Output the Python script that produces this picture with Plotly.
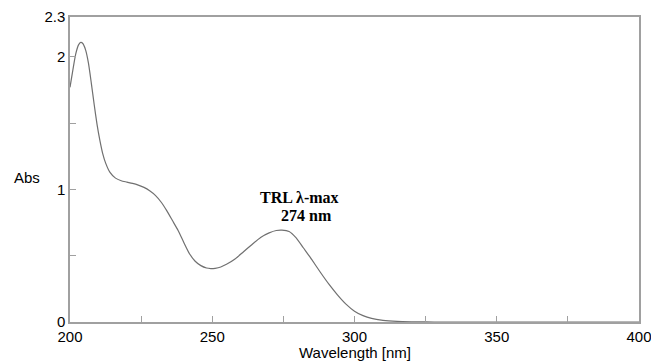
import plotly.graph_objects as go

wavelength = [200, 201, 202, 203, 203.8, 204.5, 205.5, 206.5, 207.5, 208.5, 209.5, 210.5,
              211.5, 212.5, 214, 216, 218, 220, 222, 224, 226, 228, 230, 232, 234, 236,
              238, 240, 242, 244, 246, 248, 249.5, 251, 253, 255, 258, 261, 264, 267,
              270, 272.5, 274.5, 277, 279.5, 282, 285, 288, 291, 294, 297, 300, 303,
              306, 310, 315, 320, 325, 330, 400]
absorbance = [1.77, 1.90, 2.02, 2.09, 2.108, 2.10, 2.05, 1.95, 1.80, 1.64, 1.49, 1.37,
              1.27, 1.20, 1.13, 1.085, 1.065, 1.055, 1.045, 1.032, 1.015, 0.99, 0.955,
              0.905, 0.84, 0.765, 0.69, 0.60, 0.515, 0.458, 0.425, 0.407, 0.403, 0.405,
              0.415, 0.435, 0.475, 0.53, 0.585, 0.638, 0.672, 0.69, 0.693, 0.683, 0.635,
              0.56, 0.47, 0.375, 0.285, 0.205, 0.135, 0.082, 0.048, 0.027, 0.013, 0.005,
              0.002, 0.0005, 0, 0]

x_ticks = [200, 250, 300, 350, 400]
y_ticks = [0, 1, 2, 2.3]
y_labels = ["0", "1", "2", "2.3"]

fig = go.Figure()
fig.add_trace(go.Scatter(x=wavelength, y=absorbance, mode="lines",
                         line=dict(color="#707070", width=1.2, shape="spline", smoothing=0.6),
                         hoverinfo="skip"))

axis_col = "#a0a0a0"
tfont = dict(family="Liberation Sans, Arial", size=15, color="black")
fig.update_xaxes(range=[200, 400], tickvals=x_ticks, ticktext=[str(v) for v in x_ticks],
                 ticks="inside", ticklen=6, tickcolor=axis_col, tickwidth=1,
                 minor=dict(dtick=25, tick0=200, ticks="inside", ticklen=6, tickcolor=axis_col),
                 showline=True, linecolor=axis_col, linewidth=1.5, mirror=True,
                 showgrid=False, zeroline=False, automargin=False,
                 ticklabeloverflow="allow", tickfont=tfont)
fig.update_yaxes(range=[0, 2.3], tickvals=y_ticks, ticktext=y_labels,
                 ticks="inside", ticklen=6, tickcolor=axis_col, tickwidth=1,
                 minor=dict(dtick=0.5, tick0=0, ticks="inside", ticklen=6, tickcolor=axis_col),
                 showline=True, linecolor=axis_col, linewidth=1.5, mirror=True,
                 showgrid=False, zeroline=False, automargin=False,
                 ticklabeloverflow="allow", tickfont=tfont)

fig.add_annotation(x=266.1, y=0.94, xref="x", yref="y", text="<b>TRL λ-max</b>",
                   showarrow=False, xanchor="left", yanchor="middle",
                   font=dict(family="Liberation Serif, Times New Roman", size=16, color="black"))
fig.add_annotation(x=273.5, y=0.80, xref="x", yref="y", text="<b>274 nm</b>",
                   showarrow=False, xanchor="left", yanchor="middle",
                   font=dict(family="Liberation Serif, Times New Roman", size=16, color="black"))
fig.add_annotation(x=(27 - 70) / 569, y=(322 - 177) / 305, xref="paper", yref="paper",
                   text="Abs", showarrow=False, xanchor="center", yanchor="middle",
                   font=dict(family="Liberation Sans, Arial", size=15, color="black"))
fig.add_annotation(x=0.5, y=(322 - 352) / 305, xref="paper", yref="paper",
                   text="Wavelength [nm]", showarrow=False, yanchor="middle",
                   font=dict(family="Liberation Sans, Arial", size=15, color="black"))

fig.update_layout(width=651, height=362, margin=dict(l=70, r=12, t=17, b=40),
                  plot_bgcolor="white", paper_bgcolor="white", showlegend=False)

fig.write_html("out.html")
